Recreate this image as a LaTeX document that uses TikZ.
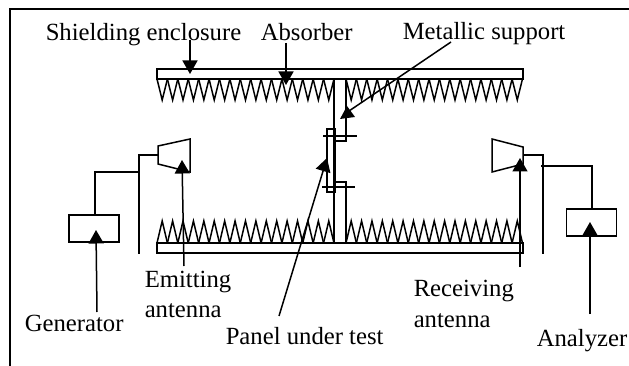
\documentclass[tikz,border=0pt]{standalone}
\usepackage{fontspec}
\setmainfont{Liberation Serif}
\usetikzlibrary{arrows.meta}
\begin{document}
\begin{tikzpicture}[x=1pt,y=-1pt,line width=1.5pt,
	bar_node/.style={rectangle,draw,inner sep=0pt,minimum width=366pt,minimum height=10pt},
	box_node/.style={rectangle,draw,inner sep=0pt,minimum width=50pt,minimum height=27pt},
	label_node/.style={anchor=base west,inner sep=0pt,font=\fontsize{24.7}{30}\selectfont},
	arrow_line/.style={-{Triangle[length=13.5pt,width=15pt]}}]

	\useasboundingbox (0,0) rectangle (629,366);

	% frame
	\coordinate (frame_a) at (10,366);
	\coordinate (frame_b) at (10,9);
	\coordinate (frame_c) at (629,9);
	\draw (frame_a) -- (frame_b) -- (frame_c);

	\node[bar_node] (top_bar) at (340,74) {};
	\node[bar_node] (bottom_bar) at (340,248) {};

	% absorber teeth
	\foreach \x in {0,...,16}{
		\draw (157+10.41*\x,79) -- (162.2+10.41*\x,100) -- (167.41+10.41*\x,79);
		\draw (346+10.38*\x,79) -- (351.2+10.38*\x,100) -- (356.38+10.38*\x,79);
		\draw (157+10.41*\x,243) -- (162.2+10.41*\x,221) -- (167.41+10.41*\x,243);
		\draw (346+10.38*\x,243) -- (351.2+10.38*\x,221) -- (356.38+10.38*\x,243);
	}

	% support and panel
	\coordinate (sup_a) at (334,79);
	\coordinate (sup_b) at (334,243);
	\coordinate (sup_c) at (346,79);
	\coordinate (sup_d) at (346,141);
	\coordinate (sup_e) at (334,141);
	\coordinate (sup_f) at (346,243);
	\coordinate (sup_g) at (346,182);
	\coordinate (sup_h) at (334,182);
	\draw (sup_a) -- (sup_b);
	\draw (sup_c) -- (sup_d) -- (sup_e);
	\draw (sup_f) -- (sup_g) -- (sup_h);
	\node[rectangle,draw,inner sep=0pt,minimum width=8pt,minimum height=63pt] (panel) at (331,160.5) {};
	\coordinate (tick_a) at (323,136);
	\coordinate (tick_b) at (357,136);
	\coordinate (tick_c) at (322,187);
	\coordinate (tick_d) at (355,187);
	\draw (tick_a) -- (tick_b);
	\draw (tick_c) -- (tick_d);

	% antennas
	\draw (158,146) -- (190,139) -- (190,172) -- (158,164) -- cycle;
	\draw (492,139) -- (523,147) -- (523,164) -- (492,172) -- cycle;

	\node[box_node] (generator) at (94,228.5) {};
	\node[box_node] (analyzer) at (591.5,222.5) {};

	% feeds
	\coordinate (feed_a) at (158,155);
	\coordinate (feed_b) at (139,155);
	\coordinate (feed_c) at (139,254);
	\coordinate (feed_d) at (139,172);
	\coordinate (feed_e) at (95,172);
	\coordinate (feed_f) at (95,215);
	\draw (feed_a) -- (feed_b) -- (feed_c);
	\draw (feed_d) -- (feed_e) -- (feed_f);
	\coordinate (feed_g) at (523,155);
	\coordinate (feed_h) at (543,155);
	\coordinate (feed_i) at (543,254);
	\coordinate (feed_j) at (541,166);
	\coordinate (feed_k) at (592,166);
	\coordinate (feed_l) at (592,209);
	\draw (feed_g) -- (feed_h) -- (feed_i);
	\draw (feed_j) -- (feed_k) -- (feed_l);

	% labels
	\node[label_node] (shielding) at (45,41) {Shielding enclosure};
	\node[label_node] (absorber) at (260,41) {Absorber};
	\node[label_node] (metallic) at (402,40) {Metallic support};
	\node[label_node] (emitting) at (144,287) {Emitting};
	\node[label_node] (emitting_2) at (144,317) {antenna};
	\node[label_node] (gen_text) at (24,331) {Generator};
	\node[label_node] (panel_text) at (225,344) {Panel under test};
	\node[label_node] (receiving) at (413,296) {Receiving};
	\node[label_node] (receiving_2) at (413,327) {antenna};
	\node[label_node] (ana_text) at (536,346) {Analyzer};

	% pointers
	\coordinate (p1) at (190,40);
	\coordinate (q1) at (190,74);
	\coordinate (p2) at (286,43);
	\coordinate (q2) at (286,85);
	\coordinate (p3) at (451,42);
	\coordinate (q3) at (349,111);
	\coordinate (p4) at (184,266);
	\coordinate (q4) at (182,160);
	\coordinate (p5) at (520,267);
	\coordinate (q5) at (520,158);
	\coordinate (p6) at (97,312);
	\coordinate (q6) at (96,230);
	\coordinate (p7) at (590,314);
	\coordinate (q7) at (590,222);
	\coordinate (p8) at (279,316);
	\coordinate (q8) at (327,158);
	\draw[arrow_line] (p1) -- (q1);
	\draw[arrow_line] (p2) -- (q2);
	\draw (p3) -- (q3);
	\fill (340,119) -- (355,117) -- (347,106) -- cycle;
	\draw[arrow_line] (p4) -- (q4);
	\draw[arrow_line] (p5) -- (q5);
	\draw[arrow_line] (p6) -- (q6);
	\draw[arrow_line] (p7) -- (q7);
	\draw[arrow_line] (p8) -- (q8);
\end{tikzpicture}
\end{document}
